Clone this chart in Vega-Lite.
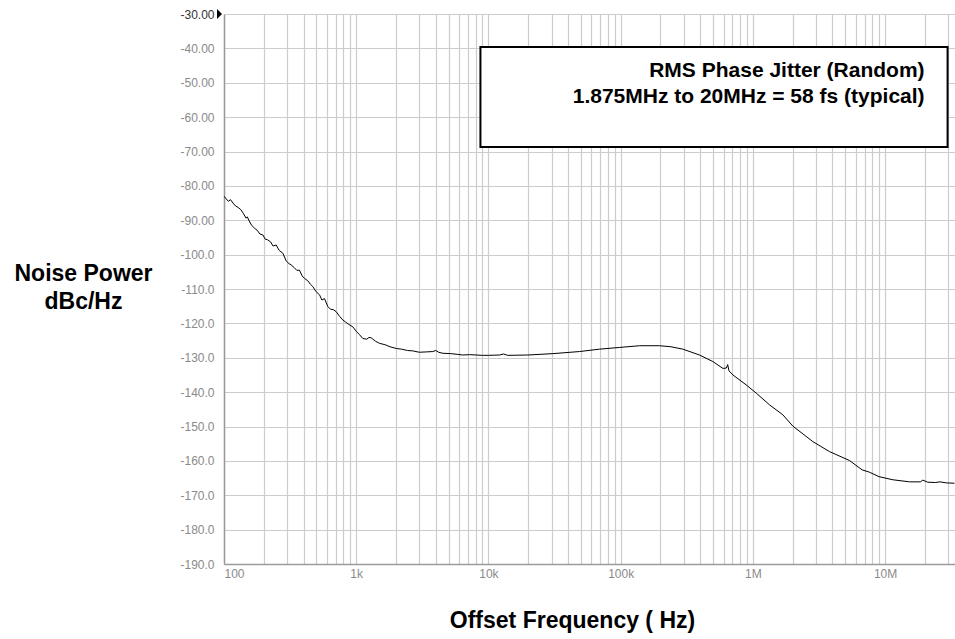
{
  "$schema": "https://vega.github.io/schema/vega-lite/v6.json",
  "width": 731,
  "height": 550,
  "autosize": {"type": "none"},
  "padding": {"left": 224, "top": 14, "right": 0, "bottom": 75},
  "background": "white",
  "config": {"view": {"stroke": null}},
  "datasets": {
    "noise": [
      {"freq": 100, "dbc": -83.0}, {"freq": 104, "dbc": -83.8}, {"freq": 108, "dbc": -84.5}, {"freq": 112, "dbc": -84.0},
      {"freq": 117, "dbc": -85.0}, {"freq": 122, "dbc": -85.8}, {"freq": 128, "dbc": -86.3}, {"freq": 134, "dbc": -86.9},
      {"freq": 140, "dbc": -88.0}, {"freq": 147, "dbc": -89.4}, {"freq": 150, "dbc": -89.0}, {"freq": 155, "dbc": -90.2},
      {"freq": 162, "dbc": -91.5}, {"freq": 170, "dbc": -92.3}, {"freq": 178, "dbc": -92.9}, {"freq": 187, "dbc": -94.0},
      {"freq": 197, "dbc": -94.3}, {"freq": 205, "dbc": -95.5}, {"freq": 214, "dbc": -95.7}, {"freq": 225, "dbc": -96.3},
      {"freq": 235, "dbc": -97.5}, {"freq": 248, "dbc": -97.2}, {"freq": 262, "dbc": -98.8}, {"freq": 279, "dbc": -99.6},
      {"freq": 295, "dbc": -101.8}, {"freq": 310, "dbc": -102.6}, {"freq": 322, "dbc": -103.0}, {"freq": 340, "dbc": -103.8},
      {"freq": 356, "dbc": -104.6}, {"freq": 372, "dbc": -104.5}, {"freq": 390, "dbc": -106.2}, {"freq": 406, "dbc": -106.9},
      {"freq": 430, "dbc": -107.6}, {"freq": 450, "dbc": -108.6}, {"freq": 470, "dbc": -109.3}, {"freq": 495, "dbc": -110.7},
      {"freq": 528, "dbc": -111.7}, {"freq": 550, "dbc": -113.2}, {"freq": 575, "dbc": -112.8}, {"freq": 610, "dbc": -115.1},
      {"freq": 640, "dbc": -115.9}, {"freq": 670, "dbc": -116.0}, {"freq": 706, "dbc": -116.6}, {"freq": 750, "dbc": -118.0},
      {"freq": 792, "dbc": -119.0}, {"freq": 830, "dbc": -119.6}, {"freq": 880, "dbc": -120.3}, {"freq": 942, "dbc": -121.0},
      {"freq": 1000, "dbc": -122.3}, {"freq": 1060, "dbc": -123.3}, {"freq": 1122, "dbc": -124.4}, {"freq": 1200, "dbc": -124.6},
      {"freq": 1250, "dbc": -124.1}, {"freq": 1298, "dbc": -124.2}, {"freq": 1400, "dbc": -125.2}, {"freq": 1500, "dbc": -125.8},
      {"freq": 1650, "dbc": -126.2}, {"freq": 1800, "dbc": -126.8}, {"freq": 2008, "dbc": -127.3}, {"freq": 2200, "dbc": -127.5},
      {"freq": 2450, "dbc": -127.9}, {"freq": 2680, "dbc": -128.0}, {"freq": 3000, "dbc": -128.4}, {"freq": 3400, "dbc": -128.3},
      {"freq": 3795, "dbc": -128.2}, {"freq": 4000, "dbc": -127.9}, {"freq": 4200, "dbc": -128.4}, {"freq": 4520, "dbc": -128.7},
      {"freq": 5200, "dbc": -128.8}, {"freq": 5800, "dbc": -129.0}, {"freq": 6400, "dbc": -129.2}, {"freq": 7200, "dbc": -129.1},
      {"freq": 8090, "dbc": -129.2}, {"freq": 9000, "dbc": -129.3}, {"freq": 10000, "dbc": -129.3}, {"freq": 12130, "dbc": -129.2},
      {"freq": 13000, "dbc": -128.9}, {"freq": 14000, "dbc": -129.3}, {"freq": 19860, "dbc": -129.2}, {"freq": 30700, "dbc": -128.8},
      {"freq": 48860, "dbc": -128.2}, {"freq": 69200, "dbc": -127.5}, {"freq": 98100, "dbc": -127.0}, {"freq": 139000, "dbc": -126.5},
      {"freq": 196800, "dbc": -126.5}, {"freq": 240000, "dbc": -126.8}, {"freq": 295600, "dbc": -127.5}, {"freq": 395000, "dbc": -129.2},
      {"freq": 498000, "dbc": -131.1}, {"freq": 593000, "dbc": -133.1}, {"freq": 630000, "dbc": -133.0}, {"freq": 645000, "dbc": -132.0},
      {"freq": 660000, "dbc": -133.8}, {"freq": 706000, "dbc": -135.0}, {"freq": 891000, "dbc": -137.9}, {"freq": 1061000, "dbc": -140.3},
      {"freq": 1337000, "dbc": -143.7}, {"freq": 1686000, "dbc": -146.6}, {"freq": 2008000, "dbc": -149.9}, {"freq": 2844000, "dbc": -154.4},
      {"freq": 3800000, "dbc": -157.3}, {"freq": 5380000, "dbc": -159.9}, {"freq": 6700000, "dbc": -162.6}, {"freq": 7630000, "dbc": -163.3},
      {"freq": 9000000, "dbc": -164.6}, {"freq": 11460000, "dbc": -165.5}, {"freq": 15310000, "dbc": -166.1}, {"freq": 18500000, "dbc": -166.1},
      {"freq": 19300000, "dbc": -165.6}, {"freq": 21000000, "dbc": -166.2}, {"freq": 24000000, "dbc": -166.3}, {"freq": 26000000, "dbc": -166.1},
      {"freq": 29000000, "dbc": -166.4}, {"freq": 33500000, "dbc": -166.5}
    ],
    "box": [{"freq": 8700, "freq2": 29700000, "dbc": -39.6, "dbc2": -68.7}],
    "note": [
      {"freq": 19900000, "dbc": -48.4, "label": "RMS Phase Jitter (Random)"},
      {"freq": 19900000, "dbc": -56.0, "label": "1.875MHz to 20MHz = 58 fs (typical)"}
    ],
    "marker": [{"freq": 100, "dbc": -30}]
  },
  "encoding": {
    "x": {
      "field": "freq", "type": "quantitative",
      "scale": {"type": "log", "domain": [100, 33800000], "nice": false},
      "axis": {
        "values": [100,200,300,400,500,600,700,800,900,1000,2000,3000,4000,5000,6000,7000,8000,9000,10000,20000,30000,40000,50000,60000,70000,80000,90000,100000,200000,300000,400000,500000,600000,700000,800000,900000,1000000,2000000,3000000,4000000,5000000,6000000,7000000,8000000,9000000,10000000,20000000,30000000],
        "labelExpr": "datum.value == 100 ? '100' : datum.value == 1000 ? '1k' : datum.value == 10000 ? '10k' : datum.value == 100000 ? '100k' : datum.value == 1000000 ? '1M' : datum.value == 10000000 ? '10M' : ''",
        "labelOverlap": false,
        "labelFlush": true,
        "labelFont": "Liberation Sans", "labelFontSize": 12, "labelColor": "#8a8a8a", "labelPadding": 4,
        "ticks": false,
        "domainColor": "#9a9a9a", "domainWidth": 1.5,
        "gridColor": "#cccccc", "gridWidth": 1.2,
        "title": "Offset Frequency ( Hz)",
        "titleFont": "Liberation Sans", "titleFontSize": 23, "titleFontWeight": "bold", "titleColor": "black",
        "titleAlign": "center", "titleBaseline": "alphabetic", "titleX": 348, "titleY": 63
      }
    },
    "y": {
      "field": "dbc", "type": "quantitative",
      "scale": {"domain": [-190, -30], "nice": false, "zero": false},
      "axis": {
        "values": [-30,-40,-50,-60,-70,-80,-90,-100,-110,-120,-130,-140,-150,-160,-170,-180,-190],
        "labelExpr": "'-' + (datum.value <= -100 ? format(abs(datum.value), '.1f') : format(abs(datum.value), '.2f'))",
        "labelOverlap": false,
        "labelFont": "Liberation Sans", "labelFontSize": 12,
        "labelColor": {"condition": {"test": "datum.value == -30", "value": "#333333"}, "value": "#8a8a8a"},
        "labelPadding": 10,
        "ticks": false,
        "domainColor": "#9a9a9a", "domainWidth": 1.5,
        "gridColor": "#cccccc", "gridWidth": 1.2,
        "title": ["Noise Power", "dBc/Hz"],
        "titleFont": "Liberation Sans", "titleFontSize": 23, "titleFontWeight": "bold", "titleColor": "black",
        "titleAngle": 0, "titleAlign": "center", "titleBaseline": "alphabetic",
        "titleX": -141, "titleY": 266, "titleLineHeight": 28
      }
    }
  },
  "layer": [
    {
      "data": {"name": "noise"},
      "mark": {"type": "line", "color": "black", "strokeWidth": 1, "clip": true}
    },
    {
      "data": {"name": "box"},
      "mark": {"type": "rect", "fill": "white", "stroke": "black", "strokeWidth": 2},
      "encoding": {
        "x2": {"field": "freq2"},
        "y2": {"field": "dbc2"}
      }
    },
    {
      "data": {"name": "note"},
      "mark": {"type": "text", "align": "right", "baseline": "alphabetic", "font": "Liberation Sans", "fontWeight": "bold", "fontSize": 21, "color": "black"},
      "encoding": {
        "text": {"field": "label"}
      }
    },
    {
      "data": {"name": "marker"},
      "mark": {"type": "point", "shape": "M-0.5,-1L0.5,0L-0.5,1Z", "filled": true, "color": "black", "opacity": 1, "size": 100, "xOffset": -4.5, "clip": false}
    }
  ]
}
